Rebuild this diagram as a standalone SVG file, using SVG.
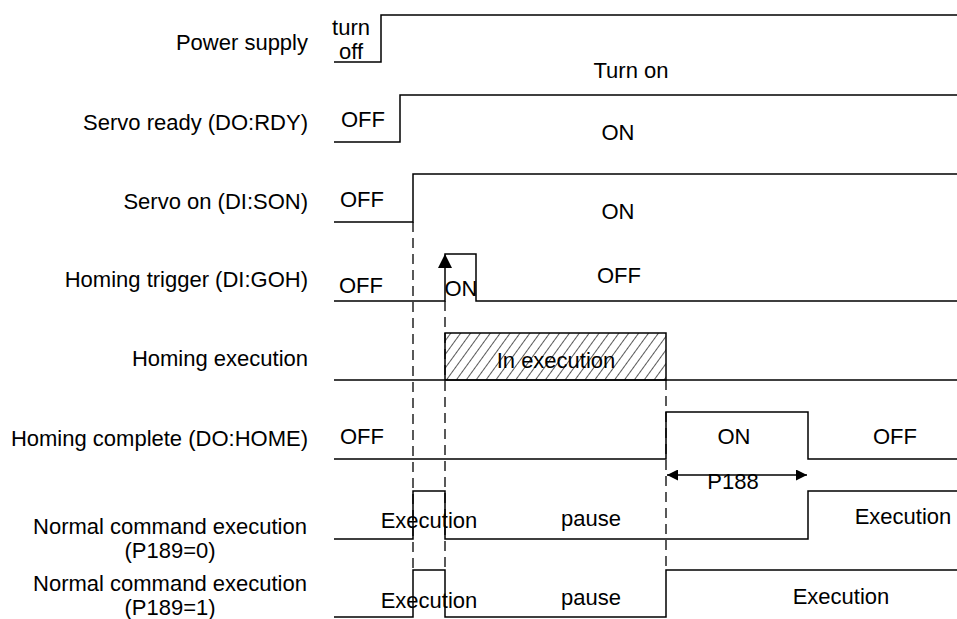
<svg xmlns="http://www.w3.org/2000/svg" width="957" height="619" viewBox="0 0 957 619">
<style>
text{font-family:"Liberation Sans",Arial,sans-serif;font-size:22px;fill:#000}
.lbl{text-anchor:end}
.mid{text-anchor:middle}
.w{fill:none;stroke:#000;stroke-width:1.5}
.d{fill:none;stroke:#000;stroke-width:1.3;stroke-dasharray:10,6}
</style>
<defs>
<pattern id="hatch" patternUnits="userSpaceOnUse" width="8" height="8" patternTransform="rotate(36)">
<line x1="0" y1="0" x2="0" y2="8" stroke="#000" stroke-width="1.3"/>
</pattern>
<marker id="ah" viewBox="0 0 10 10" refX="10" refY="5" markerWidth="14" markerHeight="11" markerUnits="userSpaceOnUse" orient="auto-start-reverse">
<path d="M0,0 L10,5 L0,10 z" fill="#000"/>
</marker>
</defs>
<rect width="957" height="619" fill="#fff"/>

<g id="row-power">
<text class="lbl" x="308" y="50">Power supply</text>
<polyline class="w" points="334,62 381,62 381,15 957,15"/>
<text class="mid" x="351" y="35">turn</text>
<text class="mid" x="351" y="59">off</text>
<text class="mid" x="631" y="78">Turn on</text>
</g>

<g id="row-ready">
<text class="lbl" x="308" y="130">Servo ready (DO:RDY)</text>
<polyline class="w" points="334,142 400,142 400,95 957,95"/>
<text class="mid" x="363" y="127">OFF</text>
<text class="mid" x="618" y="140">ON</text>
</g>

<g id="row-son">
<text class="lbl" x="308" y="209">Servo on (DI:SON)</text>
<polyline class="w" points="334,222 413,222 413,174 957,174"/>
<text class="mid" x="362" y="207">OFF</text>
<text class="mid" x="618" y="219">ON</text>
</g>

<g id="row-goh">
<text class="lbl" x="308" y="287">Homing trigger (DI:GOH)</text>
<polyline class="w" points="334,301 445,301 445,254 476,254 476,301 957,301"/>
<path d="M445,254 L438,268 L452,268 z" fill="#000"/>
<text class="mid" x="361" y="293">OFF</text>
<text class="mid" x="461" y="296">ON</text>
<text class="mid" x="619" y="283">OFF</text>
</g>

<g id="row-homexec">
<text class="lbl" x="308" y="366">Homing execution</text>
<line class="w" x1="334" y1="380" x2="957" y2="380"/>
<rect x="445" y="333" width="221" height="47" fill="url(#hatch)" stroke="#000" stroke-width="1.5"/>
<text class="mid" x="556" y="368">In execution</text>
</g>

<g id="row-home">
<text class="lbl" x="308" y="446">Homing complete (DO:HOME)</text>
<polyline class="w" points="334,459 666,459 666,412 808,412 808,459 957,459"/>
<text class="mid" x="362" y="444">OFF</text>
<text class="mid" x="734" y="444">ON</text>
<text class="mid" x="895" y="444">OFF</text>
</g>

<g id="row-p189-0">
<text class="mid" x="170" y="534">Normal command execution</text>
<text class="mid" x="170" y="558">(P189=0)</text>
<polyline class="w" points="334,539 413,539 413,491 445,491 445,539 808,539 808,491 957,491"/>
<text class="mid" x="429" y="528">Execution</text>
<text class="mid" x="591" y="526">pause</text>
<text class="mid" x="903" y="524">Execution</text>
</g>

<g id="row-p189-1">
<text class="mid" x="170" y="591">Normal command execution</text>
<text class="mid" x="170" y="615">(P189=1)</text>
<polyline class="w" points="334,617 413,617 413,570 445,570 445,617 666,617 666,570 957,570"/>
<text class="mid" x="429" y="608">Execution</text>
<text class="mid" x="591" y="605">pause</text>
<text class="mid" x="841" y="604">Execution</text>
</g>

<g id="connectors">
<line class="d" x1="413" y1="222" x2="413" y2="570"/>
<line class="d" x1="445" y1="301" x2="445" y2="570"/>
<line class="d" x1="666" y1="380" x2="666" y2="570"/>
<line x1="667" y1="475" x2="807" y2="475" stroke="#000" stroke-width="1.5" marker-start="url(#ah)" marker-end="url(#ah)"/>
<text class="mid" x="733" y="489">P188</text>
</g>
</svg>
